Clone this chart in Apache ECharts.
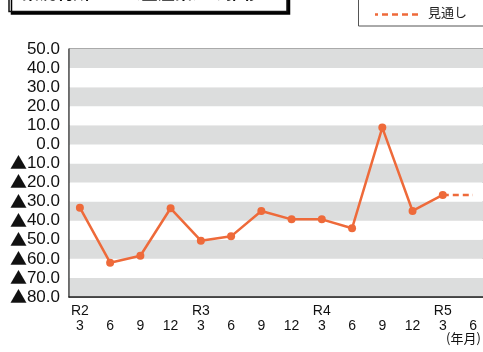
<!DOCTYPE html>
<html>
<head>
<meta charset="utf-8">
<script src="https://cdn.jsdelivr.net/npm/echarts@6/dist/echarts.min.js"></script>
<style>
  html, body { margin: 0; padding: 0; background: #fff; }
  #chart { width: 483px; height: 352px; }
</style>
</head>
<body>
<div id="chart"></div>
<script>
// Quarter labels: era year (first quarter of each year) and month
const yearLabels  = ['R2', '', '', '', 'R3', '', '', '', 'R4', '', '', '', 'R5', ''];
const monthLabels = ['3', '6', '9', '12', '3', '6', '9', '12', '3', '6', '9', '12', '3', '6'];

// Results (実績) and outlook (見通し)
const actual  = [-33.2, -62.0, -58.4, -33.5, -50.5, -48.2, -34.9, -39.3, -39.3, -44.0, 8.8, -34.9, -26.5, null];
const outlook = [null, null, null, null, null, null, null, null, null, null, null, null, -26.5, -26.5];

// Y axis range and tick step
const yMin = -80, yMax = 50, yStep = 10;

const orange = '#EE6A3A';
const font = '"Liberation Sans", Arial, Helvetica, sans-serif';
const jpFont = '"Noto Sans CJK JP", "Noto Sans", sans-serif';

const idx = monthLabels.map((_, i) => i);
const pairs = arr => arr.map((v, i) => [i, v]);

const chart = echarts.init(document.getElementById('chart'), null, { renderer: 'canvas' });

chart.setOption({
  animation: false,
  backgroundColor: '#fff',
  grid: {
    left: 69, top: 49, right: -1, bottom: 55,
    show: true, borderColor: '#555', borderWidth: 1, backgroundColor: 'transparent'
  },
  xAxis: {
    type: 'value',
    min: -0.36, max: 13.33,
    axisLine: { show: true, onZero: false, lineStyle: { color: '#222', width: 1.5 } },
    axisTick: { show: false },
    splitLine: { show: false },
    axisLabel: {
      customValues: idx,
      margin: 7,
      color: '#111',
      fontFamily: font,
      fontSize: 14,
      lineHeight: 15,
      formatter: v => (yearLabels[v] || ' ') + '\n' + monthLabels[v]
    }
  },
  yAxis: {
    type: 'value',
    min: yMin, max: yMax, interval: yStep,
    axisLine: { show: true, onZero: false, lineStyle: { color: '#555', width: 1.5 } },
    axisTick: { show: false },
    splitLine: { show: false },
    splitArea: { show: true, areaStyle: { color: ['#DCDDDD', '#FFFFFF'] } },
    axisLabel: {
      margin: 9,
      color: '#111',
      fontFamily: font,
      fontSize: 17,
      formatter: v => (v < 0 ? '{tri|▲}' + Math.abs(v).toFixed(1) : v.toFixed(1)),
      rich: {
        tri: { fontFamily: jpFont, fontSize: 17, color: '#111', padding: [0, 0, 1, 0] }
      }
    }
  },
  series: [
    {
      name: '実績',
      type: 'line',
      data: pairs(actual),
      symbol: 'circle',
      symbolSize: 8,
      lineStyle: { color: orange, width: 2.5 },
      itemStyle: { color: orange },
      z: 3
    },
    {
      name: '見通し',
      type: 'line',
      data: pairs(outlook),
      symbol: 'none',
      lineStyle: { color: orange, width: 2.5, type: [6, 4] },
      itemStyle: { color: orange },
      z: 2
    }
  ],
  graphic: [
    // title box
    {
      type: 'rect',
      shape: { x: 9, y: -30, width: 278, height: 41.5 },
      style: { fill: '#fff', stroke: '#111', lineWidth: 1.5,
               shadowColor: '#000', shadowOffsetX: 2.5, shadowOffsetY: 2.5, shadowBlur: 0 },
      z: 10
    },
    {
      type: 'text',
      left: 22, top: -15.5,
      style: { text: '業況判断ＤＩ（全産業）の推移', fontFamily: jpFont, fontWeight: 'bold',
               fontSize: 17, fill: '#111' },
      z: 11
    },
    // legend box
    {
      type: 'rect',
      shape: { x: 358.5, y: -10, width: 130, height: 36 },
      style: { fill: '#fff', stroke: '#555', lineWidth: 1 },
      z: 10
    },
    {
      type: 'line',
      shape: { x1: 375, y1: 14.5, x2: 418, y2: 14.5 },
      style: { stroke: orange, lineWidth: 2.5, lineDash: [6, 4], lineDashOffset: 3 },
      z: 11
    },
    {
      type: 'text',
      left: 428, top: 6,
      style: { text: '見通し', fontFamily: jpFont, fontSize: 13, fill: '#222' },
      z: 11
    },
    // axis unit
    {
      type: 'text',
      left: 446, top: 332,
      style: { text: '(年月)', fontFamily: jpFont, fontSize: 13, fill: '#111' },
      z: 11
    }
  ]
});
</script>
</body>
</html>
